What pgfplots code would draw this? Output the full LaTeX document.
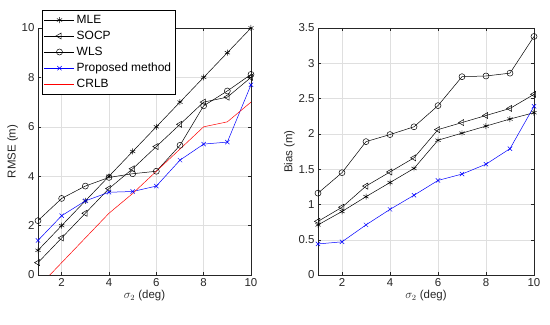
\documentclass[border=0pt]{standalone}
\usepackage{pgfplots}
\pgfplotsset{compat=1.18}
\usepackage{fontspec}
\setmainfont{Liberation Sans}
\begin{document}
\begin{tikzpicture}
\path[use as bounding box] (0bp,0bp) rectangle (550bp,325bp);
\pgfplotsset{
  every axis/.append style={
    scale only axis, height=247bp,
    xmin=1, xmax=10, xtick={2,4,6,8,10},
    grid=major, major grid style={gray!25, line width=0.4pt},
    tick align=inside, xtick pos=both, ytick pos=both,
    major tick length=3bp,
    tick style={black!85, line width=0.4pt},
    axis line style={black!85, line width=0.5pt},
    tick label style={font=\fontsize{11.5}{13}\selectfont, text=black!85},
    label style={font=\fontsize{11.5}{13}\selectfont, text=black!85},
    /pgf/number format/assume math mode=true,
    xlabel={$\sigma_2$ (deg)},
    xlabel style={yshift=3bp},
    ylabel style={yshift=-3bp},
    clip=true,
  },
  mle/.style={black, line width=0.5pt, mark=asterisk, mark size=3bp, mark options={solid}},
  socp/.style={black, line width=0.5pt, mark=triangle, mark size=3.5bp, mark options={rotate=90, solid}},
  wls/.style={black, line width=0.5pt, mark=o, mark size=3bp},
  prop/.style={blue, line width=0.5pt, mark=x, mark size=3bp},
  crlb/.style={red, line width=0.5pt},
}
\begin{axis}[at={(38bp,50bp)}, anchor=south west, width=213bp,
  ymin=0, ymax=10, ytick={0,2,4,6,8,10},
  ylabel={RMSE (m)},
  legend style={at={(axis description cs:0.019,1.073)}, anchor=north west,
    font=\fontsize{12}{13}\selectfont, text=black,
    row sep=2.2bp, inner xsep=2bp, inner ysep=3bp, fill=white},
  legend cell align=left,
  legend image code/.code={%
    \draw[mark repeat=2,mark phase=2] plot coordinates {(0bp,0bp) (15bp,0bp) (30bp,0bp)};},
]
\addplot[mle] coordinates {(1,1) (2,2) (3,3) (4,4) (5,5) (6,6) (7,7) (8,8) (9,9) (10,10)};
\addlegendentry{MLE}
\addplot[socp] coordinates {(1,0.5) (2,1.5) (3,2.5) (4,3.5) (5,4.3) (6,5.2) (7,6.1) (8,7.0) (9,7.2) (10,8.0)};
\addlegendentry{SOCP}
\addplot[wls] coordinates {(1,2.2) (2,3.1) (3,3.6) (4,3.95) (5,4.1) (6,4.2) (7,5.25) (8,6.85) (9,7.45) (10,8.12)};
\addlegendentry{WLS}
\addplot[prop] coordinates {(1,1.4) (2,2.4) (3,3.0) (4,3.35) (5,3.38) (6,3.6) (7,4.65) (8,5.3) (9,5.38) (10,7.7)};
\addlegendentry{Proposed method}
\addplot[crlb] coordinates {(1,-0.5) (2,0.5) (3,1.5) (4,2.5) (5,3.3) (6,4.2) (7,5.1) (8,6.0) (9,6.2) (10,7.0)};
\addlegendentry{CRLB}
\end{axis}
\begin{axis}[at={(318bp,50bp)}, anchor=south west, width=216bp,
  ymin=0, ymax=3.5, ytick={0,0.5,1,1.5,2,2.5,3,3.5},
  yticklabels={0,0.5,1,1.5,2,2.5,3,3.5},
  ylabel={Bias (m)},
]
\addplot[mle] coordinates {(1,0.71) (2,0.9) (3,1.11) (4,1.31) (5,1.51) (6,1.91) (7,2.01) (8,2.11) (9,2.21) (10,2.30)};
\addplot[socp] coordinates {(1,0.76) (2,0.96) (3,1.26) (4,1.46) (5,1.66) (6,2.06) (7,2.16) (8,2.26) (9,2.36) (10,2.56)};
\addplot[wls] coordinates {(1,1.16) (2,1.45) (3,1.89) (4,1.99) (5,2.10) (6,2.40) (7,2.81) (8,2.82) (9,2.86) (10,3.38)};
\addplot[prop] coordinates {(1,0.44) (2,0.47) (3,0.71) (4,0.93) (5,1.13) (6,1.34) (7,1.43) (8,1.57) (9,1.79) (10,2.39)};
\end{axis}
\end{tikzpicture}
\end{document}
